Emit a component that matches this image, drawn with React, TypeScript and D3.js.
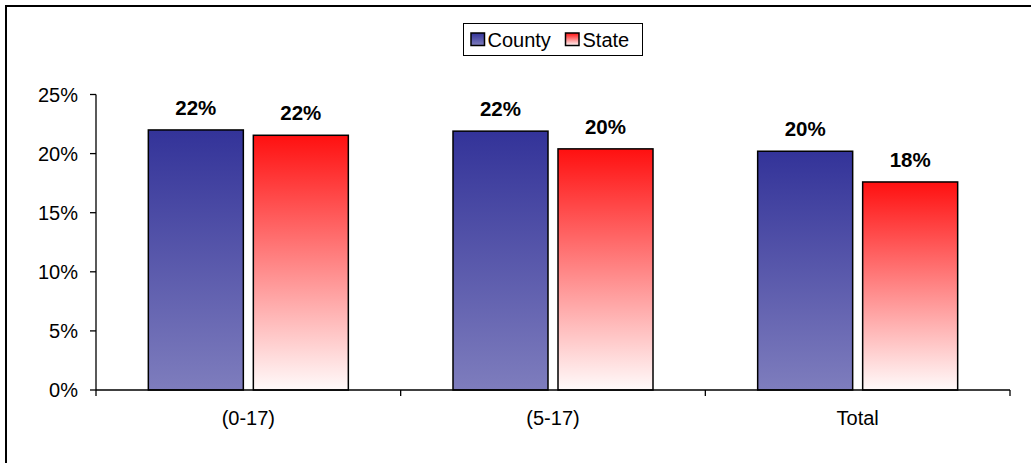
import React from "react";
import * as d3 from "d3";

const categories = ["(0-17)", "(5-17)", "Total"];
const seriesNames = ["County", "State"];
const countyValues = [22.0, 21.9, 20.2];
const stateValues = [21.55, 20.4, 17.6];
const yTicks = [0, 5, 10, 15, 20, 25];

const W = 1031;
const H = 463;
const FONT = "'Liberation Sans', Arial, sans-serif";

export default function App() {
  const x = d3.scaleBand<string>().domain(categories).range([96, 1010]).paddingInner(0).paddingOuter(0);
  const y = d3.scaleLinear().domain([0, 25]).range([390, 94.5]);
  const inner = d3.scaleBand<string>().domain(seriesNames).range([-100, 100]).paddingInner(10 / 105);
  const series = [
    { name: "County", values: countyValues, grad: "gCounty" },
    { name: "State", values: stateValues, grad: "gState" },
  ];
  return (
    <svg width={W} height={H} style={{ position: "absolute", left: 0, top: 0, display: "block" }}>
      <defs>
        <linearGradient id="gCounty" x1="0" y1="0" x2="0" y2="1">
          <stop offset="0" stopColor="#333399" />
          <stop offset="1" stopColor="#7e7dbd" />
        </linearGradient>
        <linearGradient id="gState" x1="0" y1="0" x2="0" y2="1">
          <stop offset="0" stopColor="#ff1010" />
          <stop offset="1" stopColor="#fffafa" />
        </linearGradient>
      </defs>
      <rect x={0} y={0} width={W} height={H} fill="#fff" />
      <rect x={6} y={6} width={1040} height={470} fill="none" stroke="#000" strokeWidth={2} />
      {/* y axis */}
      <line x1={96} x2={96} y1={y(25)} y2={y(0)} stroke="#000" strokeWidth={1.3} />
      {yTicks.map((t) => (
        <g key={t}>
          <line x1={90} x2={96} y1={y(t)} y2={y(t)} stroke="#000" strokeWidth={1.3} />
          <text x={78} y={y(t)} dy="0.35em" textAnchor="end" fontFamily={FONT} fontSize={20} fill="#000">
            {t}%
          </text>
        </g>
      ))}
      {/* bars */}
      {categories.map((c, i) => {
        const cx = (x(c) as number) + x.bandwidth() / 2;
        return (
          <g key={c}>
            {series.map((s) => {
              const bx = cx + (inner(s.name) as number);
              const v = s.values[i];
              return (
                <g key={s.name}>
                  <rect
                    x={bx}
                    y={y(v)}
                    width={inner.bandwidth()}
                    height={y(0) - y(v)}
                    fill={`url(#${s.grad})`}
                    stroke="#000"
                    strokeWidth={1.5}
                  />
                  <text
                    x={bx + inner.bandwidth() / 2}
                    y={y(v) - 15}
                    textAnchor="middle"
                    fontFamily={FONT}
                    fontWeight="bold"
                    fontSize={20.5}
                    fill="#000"
                  >
                    {Math.round(v)}%
                  </text>
                </g>
              );
            })}
            <text x={cx} y={425} textAnchor="middle" fontFamily={FONT} fontSize={20} fill="#000">
              {c}
            </text>
          </g>
        );
      })}
      {/* x axis */}
      <line x1={96} x2={1010} y1={y(0)} y2={y(0)} stroke="#000" strokeWidth={1.3} />
      {[...categories.map((c) => x(c) as number), 1010].map((tx, i) => (
        <line key={i} x1={tx} x2={tx} y1={y(0)} y2={y(0) + 6} stroke="#000" strokeWidth={1.3} />
      ))}
      {/* legend */}
      <rect x={463.5} y={23.5} width={179} height={32} fill="#fff" stroke="#000" strokeWidth={1} />
      <rect x={471} y={33} width={13.5} height={12.5} fill="url(#gCounty)" stroke="#000" strokeWidth={1.5} />
      <text x={487.5} y={46.5} fontFamily={FONT} fontSize={20} fill="#000">County</text>
      <rect x={565.5} y={33} width={13.5} height={12.5} fill="url(#gState)" stroke="#000" strokeWidth={1.5} />
      <text x={582.5} y={46.5} fontFamily={FONT} fontSize={20} fill="#000">State</text>
    </svg>
  );
}
